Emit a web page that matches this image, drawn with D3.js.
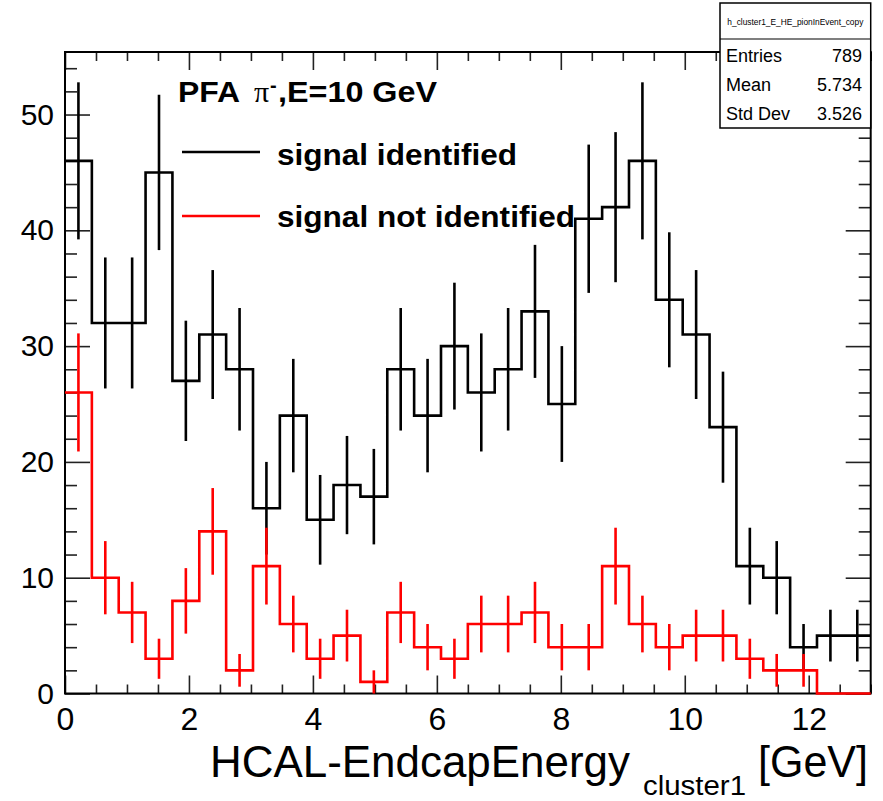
<!DOCTYPE html>
<html>
<head>
<meta charset="utf-8">
<script src="https://cdn.jsdelivr.net/npm/d3@7"></script>
<style>
  html, body { margin: 0; padding: 0; background: #fff; }
  svg { display: block; font-family: "Liberation Sans", Arial, Helvetica, sans-serif; }
</style>
</head>
<body>
<svg id="chart" width="883" height="801"></svg>
<script>
// ---- data ----
const xMin = 0, xMax = 13, nBins = 30;
const signalIdentified = [46, 32, 32, 45, 27, 31, 28, 16, 24, 15, 18, 17, 28, 24, 30,
                          26, 28, 33, 25, 41, 42, 46, 34, 31, 23, 11, 10, 4, 5, 5];
const signalNotIdentified = [26, 10, 7, 3, 8, 14, 2, 11, 6, 3, 5, 1, 7, 4, 3,
                             6, 6, 7, 4, 4, 11, 6, 4, 5, 5, 3, 2, 2, 0, 0];
const xMajorTicks = [0, 2, 4, 6, 8, 10, 12];
const yMajorTicks = [0, 10, 20, 30, 40, 50];
const yMax = 55.4;
const statsTitle = "h_cluster1_E_HE_pionInEvent_copy";
const statsRows = [["Entries", "789"], ["Mean", "5.734"], ["Std Dev", "3.526"]];

// ---- layout ----
const L = 65, R = 870.7, T = 52, B = 693.5;
const svg = d3.select("#chart");
const x = d3.scaleLinear().domain([xMin, xMax]).range([L, R]);
const y = d3.scaleLinear().domain([0, yMax]).range([B, T]);
const binW = (xMax - xMin) / nBins;
const edges = d3.range(nBins + 1).map(i => xMin + i * binW);

const xMinor = d3.range(0, 13.01, 0.5).filter(v => v % 2 !== 0);
const yMinor = d3.range(0, 55, 2).filter(v => v % 10 !== 0);

function styleAxis(g, fs) {
  g.select(".domain").remove();
  g.selectAll(".tick line").attr("stroke", "#222").attr("stroke-width", 1.6);
  g.selectAll(".tick text").attr("fill", "#000").style("font-size", fs + "px")
    .style("font-family", "'Liberation Sans', Arial, sans-serif");
}

// bottom axis
svg.append("g").attr("transform", `translate(0,${B})`)
  .call(d3.axisBottom(x).tickValues(xMajorTicks).tickSize(-18).tickPadding(14).tickFormat(d3.format("d")))
  .call(g => styleAxis(g, 32));
svg.append("g").attr("transform", `translate(0,${B})`)
  .call(d3.axisBottom(x).tickValues(xMinor).tickSize(-9).tickFormat(""))
  .call(g => styleAxis(g, 10));
// top axis
svg.append("g").attr("transform", `translate(0,${T})`)
  .call(d3.axisTop(x).tickValues(xMajorTicks).tickSize(-18).tickFormat(""))
  .call(g => styleAxis(g, 10));
svg.append("g").attr("transform", `translate(0,${T})`)
  .call(d3.axisTop(x).tickValues(xMinor).tickSize(-9).tickFormat(""))
  .call(g => styleAxis(g, 10));
// left axis
svg.append("g").attr("transform", `translate(${L},0)`)
  .call(d3.axisLeft(y).tickValues(yMajorTicks).tickSize(-25).tickPadding(11).tickFormat(d3.format("d")))
  .call(g => styleAxis(g, 30));
svg.append("g").attr("transform", `translate(${L},0)`)
  .call(d3.axisLeft(y).tickValues(yMinor).tickSize(-12).tickFormat(""))
  .call(g => styleAxis(g, 10));
// right axis
svg.append("g").attr("transform", `translate(${R},0)`)
  .call(d3.axisRight(y).tickValues(yMajorTicks).tickSize(-25).tickFormat(""))
  .call(g => styleAxis(g, 10));
svg.append("g").attr("transform", `translate(${R},0)`)
  .call(d3.axisRight(y).tickValues(yMinor).tickSize(-12).tickFormat(""))
  .call(g => styleAxis(g, 10));

// frame
svg.append("rect").attr("x", L).attr("y", T).attr("width", R - L).attr("height", B - T)
  .attr("fill", "none").attr("stroke", "#000").attr("stroke-width", 2);

// histograms
const stepLine = d3.line().x(d => x(d[0])).y(d => y(d[1])).curve(d3.curveStepAfter);
function drawHist(vals, color) {
  const pts = vals.map((v, i) => [edges[i], v]);
  pts.push([edges[nBins], vals[nBins - 1]]);
  svg.append("path").datum(pts).attr("d", stepLine)
    .attr("fill", "none").attr("stroke", color).attr("stroke-width", 2.6);
  svg.append("g").selectAll("line")
    .data(vals.map((v, i) => ({ v, c: edges[i] + binW / 2 })).filter(d => d.v > 0))
    .join("line")
    .attr("x1", d => x(d.c)).attr("x2", d => x(d.c))
    .attr("y1", d => y(Math.max(0, d.v - Math.sqrt(d.v))))
    .attr("y2", d => y(Math.min(yMax, d.v + Math.sqrt(d.v))))
    .attr("stroke", color).attr("stroke-width", 2.6);
}
drawHist(signalIdentified, "#000");
drawHist(signalNotIdentified, "#ff0000");

// legend
const leg = svg.append("g").style("font-weight", "bold");
leg.append("text").attr("x", 178).attr("y", 102).style("font-size", "29px")
  .attr("textLength", 62).attr("lengthAdjust", "spacingAndGlyphs").text("PFA");
leg.append("text").attr("x", 254).attr("y", 102).style("font-size", "30px")
  .style("font-family", "'Liberation Serif', 'DejaVu Serif', serif").style("font-weight", "normal")
  .text("π");
leg.append("text").attr("x", 270).attr("y", 92).style("font-size", "20px").text("-");
leg.append("text").attr("x", 278).attr("y", 102).style("font-size", "29px")
  .attr("textLength", 159).attr("lengthAdjust", "spacingAndGlyphs").text(",E=10 GeV");

leg.append("line").attr("x1", 182).attr("x2", 260).attr("y1", 152).attr("y2", 152)
  .attr("stroke", "#000").attr("stroke-width", 2.6);
leg.append("line").attr("x1", 182).attr("x2", 260).attr("y1", 216).attr("y2", 216)
  .attr("stroke", "#ff0000").attr("stroke-width", 2.6);
leg.append("text").attr("x", 277).attr("y", 165).style("font-size", "30px")
  .attr("textLength", 240).attr("lengthAdjust", "spacingAndGlyphs").text("signal identified");
leg.append("text").attr("x", 277).attr("y", 227).style("font-size", "30px")
  .attr("textLength", 298).attr("lengthAdjust", "spacingAndGlyphs").text("signal not identified");

// x title
const xt = svg.append("g").style("font-family", "'Liberation Sans', Arial, sans-serif");
xt.append("text").attr("x", 210).attr("y", 777).style("font-size", "44px")
  .attr("textLength", 420).attr("lengthAdjust", "spacingAndGlyphs").text("HCAL-EndcapEnergy");
xt.append("text").attr("x", 643).attr("y", 795).style("font-size", "27px")
  .attr("textLength", 103).attr("lengthAdjust", "spacingAndGlyphs").text("cluster1");
xt.append("text").attr("x", 758).attr("y", 777).style("font-size", "44px")
  .attr("textLength", 110).attr("lengthAdjust", "spacingAndGlyphs").text("[GeV]");

// stats box
const sb = svg.append("g");
const bx = 720, by = 3, bw = R - 720, bh = 125, divY = 39;
sb.append("rect").attr("x", bx).attr("y", by).attr("width", bw).attr("height", bh)
  .attr("fill", "#fff").attr("stroke", "#000").attr("stroke-width", 1.5);
sb.append("line").attr("x1", bx).attr("x2", bx + bw).attr("y1", divY).attr("y2", divY)
  .attr("stroke", "#000").attr("stroke-width", 1.2);
sb.append("text").attr("x", bx + bw / 2).attr("y", 25).attr("text-anchor", "middle")
  .style("font-size", "9px").attr("textLength", 136).attr("lengthAdjust", "spacingAndGlyphs")
  .text(statsTitle);
statsRows.forEach((r, i) => {
  const yy = 62 + i * 29;
  sb.append("text").attr("x", 726).attr("y", yy).style("font-size", "18px").text(r[0]);
  sb.append("text").attr("x", 862).attr("y", yy).attr("text-anchor", "end").style("font-size", "18px").text(r[1]);
});
</script>
</body>
</html>
